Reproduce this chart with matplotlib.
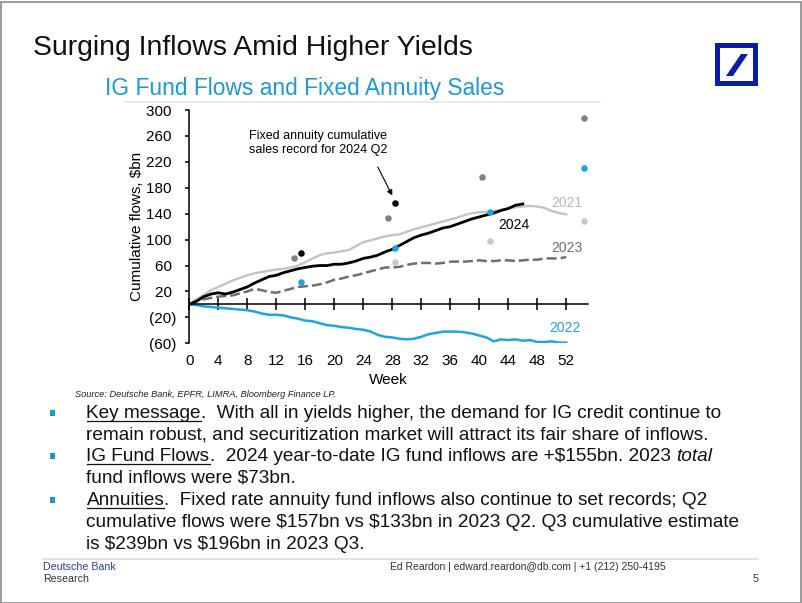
import matplotlib
matplotlib.use("Agg")
import matplotlib.pyplot as plt
from matplotlib.patches import Rectangle, Polygon
from matplotlib.lines import Line2D

# ---------------- data ----------------
weeks_full = list(range(0, 53))
weeks_2024 = list(range(0, 47))

flows_2021 = [0, 8, 15, 22, 27, 32, 37, 41, 45, 48, 50, 52, 54, 55, 57, 60, 65, 71, 76, 79,
              80, 82, 84, 90, 96, 99, 102, 105, 107, 108, 112, 116, 119, 122, 125, 128, 131,
              134, 138, 141, 142, 143, 144, 146, 148, 150, 151, 152, 151, 149, 144, 141, 139]
flows_2022 = [0, -1, -3, -4, -5, -6, -7, -8, -9, -11, -14, -16, -16, -17, -20, -22, -25, -26,
              -29, -32, -33, -35, -36, -38, -39, -42, -47, -50, -51, -53, -54, -53, -50, -46,
              -44, -42, -42, -42, -43, -45, -48, -51, -57, -54, -55, -54, -56, -55, -58, -58,
              -57, -59, -59]
flows_2023 = [0, 5, 8, 10, 12, 13, 14, 17, 20, 24, 22, 19, 18, 21, 24, 27, 28, 29, 31, 34,
              38, 40, 43, 45, 48, 51, 54, 57, 57, 58, 61, 63, 64, 64, 63, 64, 66, 66, 66, 67,
              68, 67, 67, 68, 68, 67, 68, 69, 69, 71, 71, 71, 73]
flows_2024 = [0, 5, 12, 16, 18, 16, 19, 23, 27, 33, 38, 43, 45, 49, 52, 55, 57, 59, 60, 60,
              62, 62, 64, 67, 71, 73, 76, 81, 85, 91, 97, 103, 107, 110, 114, 118, 120, 124,
              128, 132, 135, 138, 141, 145, 148, 153, 155]

# fixed annuity cumulative sales (quarterly dots)
ann_weeks_2021 = [28.4, 41.5, 54.5]
ann_2021 = [66, 98, 129]
ann_weeks_2022 = [15.4, 28.4, 41.5, 54.5]
ann_2022 = [35, 87, 143, 210]
ann_weeks_2023 = [14.4, 27.4, 40.4, 54.5]
ann_2023 = [71, 133, 197, 287]
ann_weeks_2024 = [15.4, 28.4]
ann_2024 = [79, 157]

y_ticks = [-60, -20, 20, 60, 100, 140, 180, 220, 260, 300]
x_ticks = list(range(0, 53, 4))

C21 = "#c3c3c3"
C22 = "#1ba6e0"
C23 = "#6f6f6f"
C24 = "#000000"
FONT = "Liberation Sans"

W, H = 802, 603
fig = plt.figure(figsize=(W / 100, H / 100), dpi=100)
plt.rcParams['font.family'] = [FONT, 'DejaVu Sans']


def fx(x):
    return x / W


def fy(y):
    return 1 - y / H


# ---------------- chart ----------------
L, R, T, B = 189.3, 588.0, 110.0, 343.3
ax = fig.add_axes([fx(L), fy(B), (R - L) / W, (B - T) / H])
ax.set_xlim(0, 55)
ax.set_ylim(-60, 300)

ax.plot(weeks_full, flows_2021, color=C21, lw=1.7, zorder=2)
ax.plot(weeks_full, flows_2022, color=C22, lw=1.8, zorder=2)
ax.plot(weeks_full, flows_2023, color=C23, lw=1.8, dashes=(4, 1.6), zorder=3)
ax.plot(weeks_2024, flows_2024, color=C24, lw=2.0, zorder=4)

ms = 22
ax.scatter(ann_weeks_2021, ann_2021, s=ms, color="#c8c8c8", zorder=5, linewidths=0)
ax.scatter(ann_weeks_2022, ann_2022, s=ms, color=C22, zorder=5, linewidths=0)
ax.scatter(ann_weeks_2023, ann_2023, s=ms, color="#808080", zorder=5, linewidths=0)
ax.scatter(ann_weeks_2024, ann_2024, s=ms, color=C24, zorder=5, linewidths=0)

for s in ['top', 'right']:
    ax.spines[s].set_visible(False)
ax.spines['bottom'].set_position(('data', 0))
ax.spines['left'].set_linewidth(1.1)
ax.spines['bottom'].set_linewidth(1.1)

ax.set_yticks(y_ticks)
ax.set_yticklabels([f"({abs(v)})" if v < 0 else f"{v} " for v in y_ticks])
ax.tick_params(axis='y', direction='out', length=3, width=1.1, pad=6.5, labelsize=11)
ax.set_xticks(x_ticks)
ax.tick_params(axis='x', direction='inout', length=8, width=1.1, labelbottom=False)

sec = ax.secondary_xaxis('bottom')
sec.set_xticks(x_ticks)
sec.spines['bottom'].set_visible(False)
sec.tick_params(axis='x', length=0, pad=8, labelsize=11)
sec.set_xlabel("Week", fontsize=11, labelpad=3)

ax.set_ylabel("Cumulative flows, $bn", fontsize=11, labelpad=2, parse_math=False)

# series labels (data coords)
ax.text(52.1, 157, "2021", color="#b8b8b8", fontsize=10, ha='center', va='center')
ax.text(44.8, 122, "2024", color="black", fontsize=10, ha='center', va='center')
ax.text(52.1, 87, "2023", color=C23, fontsize=10, ha='center', va='center')
ax.text(51.8, -37, "2022", color=C22, fontsize=10, ha='center', va='center')

ax.text(8.2, 249, "Fixed annuity cumulative\nsales record for 2024 Q2", fontsize=9,
        ha='left', va='center', linespacing=1.15)
ax.annotate("", xy=(28.0, 168), xytext=(26.0, 212),
            arrowprops=dict(arrowstyle='-|>', color='black', lw=0.8,
                            mutation_scale=8, shrinkA=0, shrinkB=0))

# ---------------- slide decorations ----------------
renderer = fig.canvas.get_renderer()


def text_width(s, **kw):
    t = fig.text(0, 0, s, parse_math=False, **kw)
    w = t.get_window_extent(renderer).width
    t.remove()
    return w


def fit_size(s, target, **kw):
    w = text_width(s, fontsize=10, **kw)
    return 10 * target / w


# title
tsize = fit_size("Surging Inflows Amid Higher Yields", 442)
fig.text(fx(33), fy(48), "Surging Inflows Amid Higher Yields", fontsize=tsize,
         ha='left', va='center', color="#111111", parse_math=False)
ssize = fit_size("IG Fund Flows and Fixed Annuity Sales", 400)
fig.text(fx(105), fy(88), "IG Fund Flows and Fixed Annuity Sales", fontsize=ssize,
         ha='left', va='center', color="#1d9ad6", parse_math=False)

fig.add_artist(Line2D([fx(125), fx(600)], [fy(101.5), fy(101.5)], color="#ebebeb", lw=1.5))

# logo
fig.add_artist(Rectangle((fx(715), fy(86)), 43 / W, 43 / H, facecolor="#0a1ca8",
                         edgecolor='none'))
fig.add_artist(Rectangle((fx(720), fy(81)), 33 / W, 33 / H, facecolor="white",
                         edgecolor='none'))
fig.add_artist(Polygon([(fx(726), fy(76)), (fx(733), fy(76)), (fx(748), fy(54)),
                        (fx(741), fy(54))], closed=True, facecolor="#0a1ca8",
                       edgecolor='none'))

# source
fig.text(fx(75), fy(394.5), "Source: Deutsche Bank, EPFR, LIMRA, Bloomberg Finance LP.",
         fontsize=fit_size("Source: Deutsche Bank, EPFR, LIMRA, Bloomberg Finance LP.", 262,
                           style='italic'),
         style='italic', ha='left', va='center', color="#222222", parse_math=False)

# bullets
lines = [
    [("Key message", 'u'), (".  With all in yields higher, the demand for IG credit continue to", 'n')],
    [("remain robust, and securitization market will attract its fair share of inflows.", 'n')],
    [("IG Fund Flows", 'u'), (".  2024 year-to-date IG fund inflows are +$155bn. 2023", 'n'),
     (" ", 'sp'), ("total", 'i')],
    [("fund inflows were $73bn.", 'n')],
    [("Annuities", 'u'), (".  Fixed rate annuity fund inflows also continue to set records; Q2", 'n')],
    [("cumulative flows were $157bn vs $133bn in 2023 Q2. Q3 cumulative estimate", 'n')],
    [("is $239bn vs $196bn in 2023 Q3.", 'n')],
]
bullet_lines = [0, 2, 4]
centers = [412, 433.5, 455, 477, 499, 521, 543]
bsize = fit_size("Key message.  With all in yields higher, the demand for IG credit continue to", 640)
space_w = text_width("x x", fontsize=bsize) - text_width("xx", fontsize=bsize)
x0 = 86.5
for i, segs in enumerate(lines):
    base = centers[i] + 6
    x = x0
    for s, kind in segs:
        if kind == 'sp':
            x += space_w
            continue
        t = fig.text(fx(x), fy(base), s, fontsize=bsize, ha='left', va='baseline',
                     color="#111111", style='italic' if kind == 'i' else 'normal',
                     parse_math=False)
        w = t.get_window_extent(renderer).width
        if kind == 'u':
            fig.add_artist(Line2D([fx(x), fx(x + w)], [fy(base + 2.5), fy(base + 2.5)],
                                  color="#111111", lw=0.9))
        x += w
    if i in bullet_lines:
        fig.add_artist(Rectangle((fx(50), fy(centers[i] + 3.5)), 5 / W, 6 / H,
                                 facecolor="#1e96d2", edgecolor='none'))

# footer
fig.add_artist(Line2D([fx(43), fx(758)], [fy(559), fy(559)], color="#dedede", lw=1.2))
fig.text(fx(43), fy(567), "Deutsche Bank", fontsize=7.7, color="#2e3aa6", ha='left', va='center')
fig.text(fx(43), fy(578.5), "Research", fontsize=7.7, color="#333333", ha='left', va='center')
fig.text(fx(390), fy(567), "Ed Reardon | edward.reardon@db.com | +1 (212) 250-4195",
         fontsize=7.5, color="#333333", ha='left', va='center', parse_math=False)
fig.text(fx(758), fy(579), "5", fontsize=7.7, color="#333333", ha='right', va='center')

# slide border
fig.add_artist(Rectangle((0.5 / W, 0.5 / H), (W - 2) / W, (H - 2) / H, facecolor='none',
                         edgecolor="#8a8a8a", lw=1.2))

fig.savefig("out.png", dpi=100)
